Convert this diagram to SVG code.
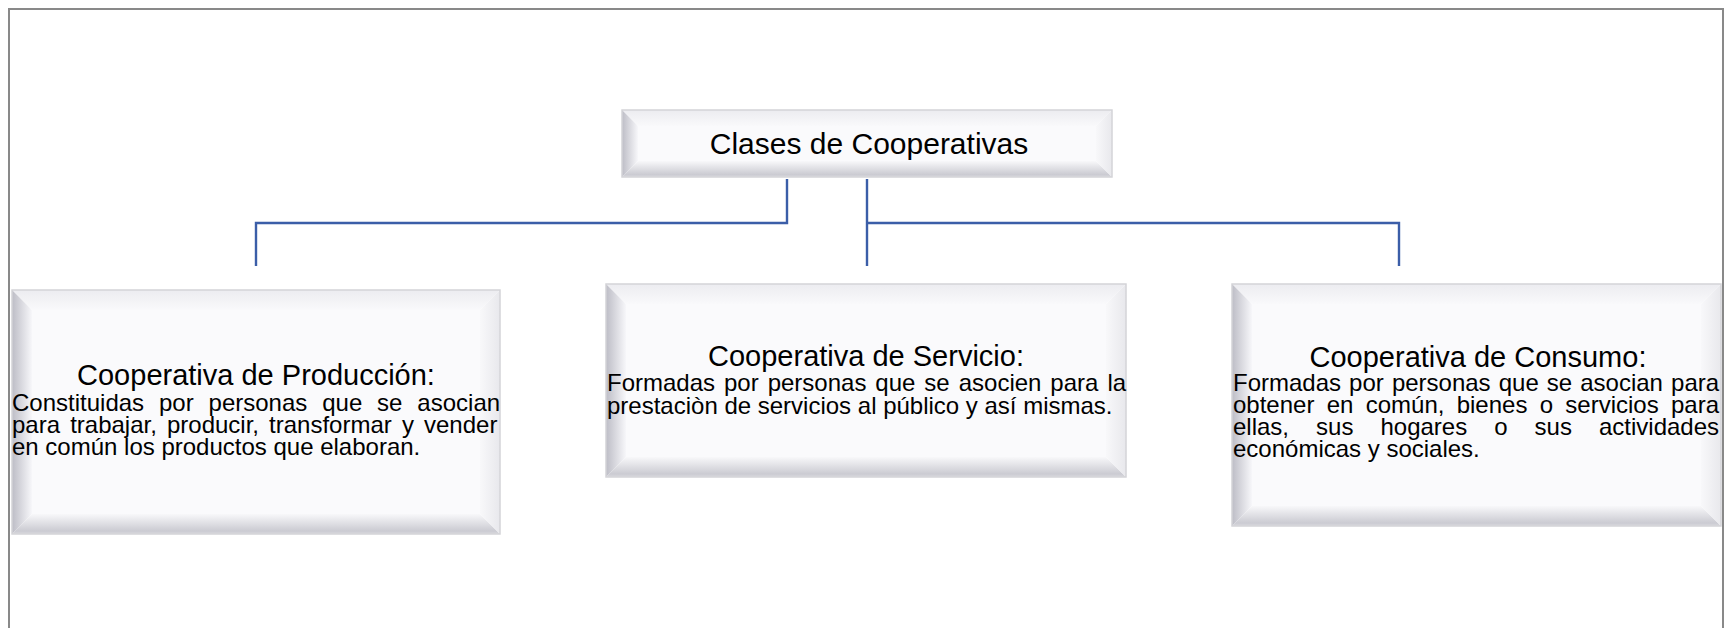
<svg xmlns="http://www.w3.org/2000/svg" width="1724" height="628" viewBox="0 0 1724 628">
<defs>
<style>
.face{fill:#fafafc}
.bt{fill:url(#gTop)}
.bl{fill:url(#gLeft)}
.bb{fill:url(#gBot)}
.br{fill:url(#gRight)}
.edge{fill:none;stroke:#d4d4d8;stroke-width:1.5}
.title{font-family:"Liberation Sans",Arial,sans-serif;font-size:29px;fill:#000;text-anchor:middle}
.body{font-family:"Liberation Sans",Arial,sans-serif;font-size:24px;fill:#000}
.conn{fill:none;stroke:#3b5ea8;stroke-width:2.4}
</style>
<linearGradient id="gTop" x1="0" y1="0" x2="0" y2="1"><stop offset="0" stop-color="#ececf0"/><stop offset="1" stop-color="#f9f9fb"/></linearGradient>
<linearGradient id="gLeft" x1="0" y1="0" x2="1" y2="0"><stop offset="0" stop-color="#bdbdc6"/><stop offset="1" stop-color="#f7f7fa"/></linearGradient>
<linearGradient id="gBot" x1="0" y1="0" x2="0" y2="1"><stop offset="0" stop-color="#f8f8fa"/><stop offset="0.85" stop-color="#cbcbd2"/><stop offset="1" stop-color="#d9d9de"/></linearGradient>
<linearGradient id="gRight" x1="0" y1="0" x2="1" y2="0"><stop offset="0" stop-color="#f8f8fa"/><stop offset="1" stop-color="#e8e8ec"/></linearGradient>
</defs>
<rect width="1724" height="628" fill="#ffffff"/>
<rect x="9" y="9" width="1714" height="680" fill="none" stroke="#898989" stroke-width="2"/>

<g id="connectors">
<path class="conn" d="M787,179 V223 H256 V266"/>
<path class="conn" d="M867,179 V266"/>
<path class="conn" d="M867,223 H1399 V266"/>
</g>

<g id="node-clases">
<rect class="face" x="638" y="126" width="458" height="35"/>
<polygon class="bt" points="622,110 1112,110 1096,126 638,126"/>
<polygon class="bl" points="622,110 638,126 638,161 622,177"/>
<polygon class="bb" points="622,177 638,161 1096,161 1112,177"/>
<polygon class="br" points="1112,110 1112,177 1096,161 1096,126"/>
<rect class="edge" x="622" y="110" width="490" height="67"/>
<text class="title" x="869" y="154" style="font-size:30px">Clases de Cooperativas</text>
</g>

<g id="node-produccion">
<rect class="face" x="32" y="310" width="448" height="204"/>
<polygon class="bt" points="12,290 500,290 480,310 32,310"/>
<polygon class="bl" points="12,290 32,310 32,514 12,534"/>
<polygon class="bb" points="12,534 32,514 480,514 500,534"/>
<polygon class="br" points="500,290 500,534 480,514 480,310"/>
<rect class="edge" x="12" y="290" width="488" height="244"/>
<text class="title" x="256" y="385">Cooperativa de Producción:</text>
<text class="body" x="12" y="411" word-spacing="8.23">Constituidas por personas que se asocian</text>
<text class="body" x="12" y="433" word-spacing="3.43">para trabajar, producir, transformar y vender</text>
<text class="body" x="12" y="455">en común los productos que elaboran.</text>
</g>

<g id="node-servicio">
<rect class="face" x="626" y="304" width="480" height="153"/>
<polygon class="bt" points="606,284 1126,284 1106,304 626,304"/>
<polygon class="bl" points="606,284 626,304 626,457 606,477"/>
<polygon class="bb" points="606,477 626,457 1106,457 1126,477"/>
<polygon class="br" points="1126,284 1126,477 1106,457 1106,304"/>
<rect class="edge" x="606" y="284" width="520" height="193"/>
<text class="title" x="866" y="366">Cooperativa de Servicio:</text>
<text class="body" x="607" y="391" word-spacing="2.30">Formadas por personas que se asocien para la</text>
<text class="body" x="607" y="414">prestaciòn de servicios al público y así mismas.</text>
</g>

<g id="node-consumo">
<rect class="face" x="1252" y="304" width="449" height="202"/>
<polygon class="bt" points="1232,284 1721,284 1701,304 1252,304"/>
<polygon class="bl" points="1232,284 1252,304 1252,506 1232,526"/>
<polygon class="bb" points="1232,526 1252,506 1701,506 1721,526"/>
<polygon class="br" points="1721,284 1721,526 1701,506 1701,304"/>
<rect class="edge" x="1232" y="284" width="489" height="242"/>
<text class="title" x="1478" y="367">Cooperativa de Consumo:</text>
<text class="body" x="1233" y="391" word-spacing="1.41">Formadas por personas que se asocian para</text>
<text class="body" x="1233" y="413" word-spacing="5.63">obtener en común, bienes o servicios para</text>
<text class="body" x="1233" y="435" word-spacing="20.37">ellas, sus hogares o sus actividades</text>
<text class="body" x="1233" y="457">económicas y sociales.</text>
</g>
</svg>
